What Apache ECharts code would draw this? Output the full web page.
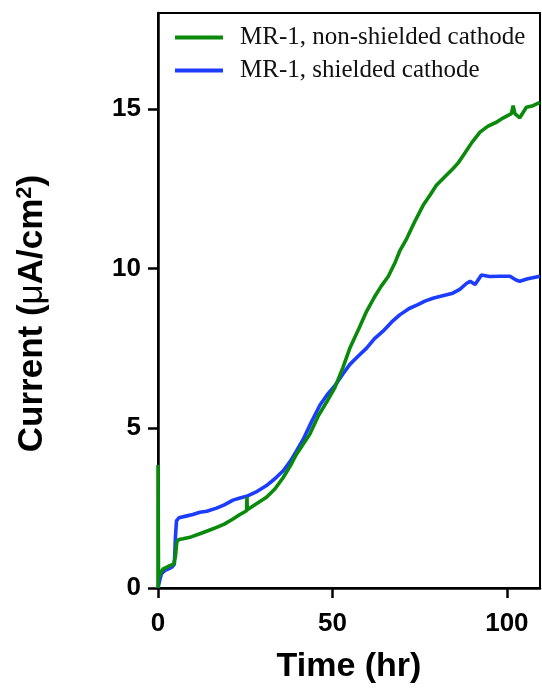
<!DOCTYPE html>
<html>
<head>
<meta charset="utf-8">
<script src="https://cdn.jsdelivr.net/npm/echarts@6/dist/echarts.min.js"></script>
<style>
  html, body { margin: 0; padding: 0; background: #fff; }
  #chart { width: 542px; height: 689px; }
</style>
</head>
<body>
<div id="chart"></div>
<script>
// Current density over time, [hours, µA/cm²]
const shieldedName = 'MR-1, shielded cathode';
const nonShieldedName = 'MR-1, non-shielded cathode';

const shielded = [
  [0, 0], [0.5, 0.25], [1, 0.45], [2, 0.55], [3, 0.6], [4, 0.65], [4.7, 0.75],
  [5.0, 1.6], [5.3, 2.1], [6, 2.2], [8, 2.25], [10, 2.3], [12, 2.37], [14, 2.4],
  [16.8, 2.5], [19, 2.6], [21.5, 2.75], [23.5, 2.82], [25.4, 2.87], [28, 3.0],
  [31, 3.2], [33.5, 3.42], [35.9, 3.67], [38, 3.98], [39.7, 4.29], [41.6, 4.65],
  [44, 5.2], [46.4, 5.72], [48.5, 6.05], [50.7, 6.33], [53, 6.7], [55, 7.0],
  [57.5, 7.27], [59.8, 7.51], [62, 7.8], [64.5, 8.04], [67, 8.33], [69.3, 8.55],
  [72, 8.75], [74.5, 8.87], [76.5, 8.98], [78.8, 9.07], [81, 9.13], [84.5, 9.23],
  [86.5, 9.35], [88.5, 9.54], [89.5, 9.6], [90.9, 9.5], [92.7, 9.8], [95, 9.75],
  [98, 9.76], [100.9, 9.76], [102.5, 9.65], [103.7, 9.6], [106, 9.68], [109.5, 9.76]
];

const nonShielded = [
  [0, 0], [0, 3.85], [0.15, 0.3], [0.6, 0.45], [1.5, 0.6], [3, 0.68], [4.5, 0.75],
  [5, 1.0], [5.4, 1.45], [6, 1.52], [7.2, 1.54], [9.5, 1.6], [12, 1.7], [14.5, 1.8],
  [16.8, 1.9], [19, 2.0], [21.5, 2.16], [23.5, 2.3], [25.4, 2.42], [25.5, 2.85],
  [25.6, 2.45], [28, 2.62], [31.1, 2.84], [33.5, 3.1], [35.9, 3.46], [37.8, 3.8],
  [39.7, 4.19], [41.6, 4.5], [43.5, 4.81], [46, 5.4], [48.5, 5.85], [50.7, 6.27],
  [53, 6.9], [55, 7.51], [57.5, 8.1], [59.8, 8.66], [62, 9.1], [64, 9.45],
  [66, 9.75], [68, 10.2], [69.3, 10.55], [71.3, 10.94], [73.5, 11.45], [76, 11.98],
  [78, 12.3], [79.8, 12.61], [82, 12.85], [84.6, 13.13], [86, 13.3], [87.5, 13.54],
  [90, 13.95], [92.3, 14.27], [94.5, 14.45], [97, 14.58], [99, 14.72], [101.3, 14.85],
  [101.8, 15.1], [102.3, 14.85], [103.7, 14.72], [105.6, 15.05], [107.5, 15.1], [109.5, 15.2]
];

const xTicks = [0, 50, 100];
const yTicks = [0, 5, 10, 15];

const sansBold = { fontFamily: 'Arial, "Liberation Sans", sans-serif', fontWeight: 'bold', color: '#000' };
const serif = 'Times New Roman, "Liberation Serif", serif';

const chart = echarts.init(document.getElementById('chart'), null, { renderer: 'canvas' });
chart.setOption({
  backgroundColor: '#fff',
  animation: false,
  grid: {
    left: 158, right: 2, top: 13, bottom: 98,
    show: true, borderColor: '#000', borderWidth: 2, backgroundColor: 'transparent'
  },
  legend: {
    orient: 'vertical',
    left: 170, top: 19,
    itemWidth: 48, itemHeight: 14, itemGap: 6,
    icon: 'path://M0,0 L48,0 L48,4 L0,4 Z',
    data: [nonShieldedName, shieldedName],
    textStyle: { fontFamily: serif, fontSize: 25, lineHeight: 27, color: '#111', padding: [0, 0, 0, 12] }
  },
  xAxis: {
    type: 'value', min: 0, max: 109.5,
    name: 'Time (hr)', nameLocation: 'middle', nameGap: 62,
    nameTextStyle: Object.assign({ fontSize: 34 }, sansBold),
    axisLine: { show: true, lineStyle: { color: '#000', width: 2.5 } },
    axisTick: { show: true, inside: false, length: 10, lineStyle: { color: '#000', width: 2.5 }, customValues: xTicks },
    axisLabel: Object.assign({ fontSize: 26, margin: 23, customValues: xTicks }, sansBold),
    splitLine: { show: false }
  },
  yAxis: {
    type: 'value', min: 0, max: 18,
    name: '{a|Current (}{m|μ}{a|A/cm}{s|2}{a|)}', nameLocation: 'middle', nameGap: 108, nameRotate: 90,
    nameTextStyle: {
      padding: [0, 26, 0, 0],
      rich: {
        a: Object.assign({ fontSize: 35 }, sansBold),
        m: { fontSize: 35, fontFamily: 'Arial, "Liberation Sans", sans-serif', fontWeight: 'normal', color: '#000' },
        s: Object.assign({ fontSize: 22, verticalAlign: 'top', padding: [0, 0, 14, 0] }, sansBold)
      }
    },
    axisLine: { show: true, lineStyle: { color: '#000', width: 2.5 } },
    axisTick: { show: true, inside: false, length: 10, lineStyle: { color: '#000', width: 2.5 }, customValues: yTicks },
    axisLabel: Object.assign({ fontSize: 26, margin: 17, customValues: yTicks }, sansBold),
    splitLine: { show: false }
  },
  series: [
    {
      name: shieldedName, type: 'line', data: shielded,
      showSymbol: false, symbol: 'none',
      lineStyle: { color: '#1c3cff', width: 3.6 }, itemStyle: { color: '#1c3cff' }
    },
    {
      name: nonShieldedName, type: 'line', data: nonShielded,
      showSymbol: false, symbol: 'none',
      lineStyle: { color: '#0a8a0a', width: 3.6 }, itemStyle: { color: '#0a8a0a' }
    }
  ]
});
</script>
</body>
</html>
